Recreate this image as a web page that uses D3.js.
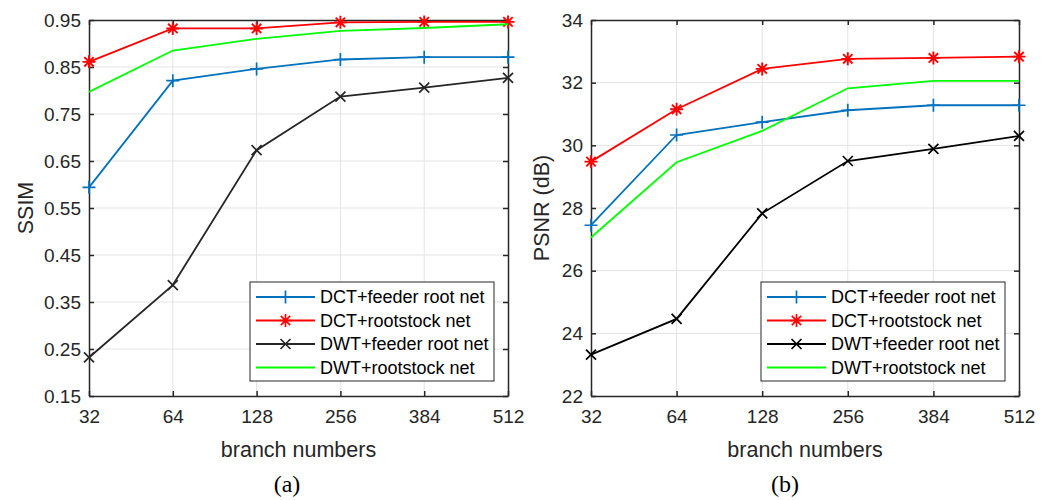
<!DOCTYPE html>
<html>
<head>
<meta charset="utf-8">
<script src="https://cdn.jsdelivr.net/npm/d3@7"></script>
<style>
  body { margin: 0; background: #fff; }
  svg { display: block; font-family: 'Liberation Sans', Arial, sans-serif; }
  .grid line { stroke: #e3e3e3; stroke-width: 1; }
</style>
</head>
<body>
<div id="chart"></div>
<script>
;(function() {
  'use strict';
  var branches = ['32', '64', '128', '256', '384', '512'];
  var seriesNames = ['DCT+feeder root net', 'DCT+rootstock net', 'DWT+feeder root net', 'DWT+rootstock net'];

  // SSIM values
  var ssimDctFeeder = [0.594, 0.821, 0.846, 0.866, 0.871, 0.871];
  var ssimDctRoot   = [0.861, 0.932, 0.932, 0.945, 0.946, 0.946];
  var ssimDwtFeeder = [0.232, 0.386, 0.673, 0.787, 0.806, 0.827];
  var ssimDwtRoot   = [0.797, 0.885, 0.910, 0.927, 0.933, 0.941];
  var ssimTicks = [0.15, 0.25, 0.35, 0.45, 0.55, 0.65, 0.75, 0.85, 0.95];

  // PSNR values
  var psnrDctFeeder = [27.45, 30.33, 30.74, 31.12, 31.28, 31.28];
  var psnrDctRoot   = [29.48, 31.15, 32.44, 32.76, 32.79, 32.83];
  var psnrDwtFeeder = [23.32, 24.46, 27.83, 29.50, 29.89, 30.30];
  var psnrDwtRoot   = [27.06, 29.46, 30.46, 31.82, 32.06, 32.06];
  var psnrTicks = [22, 24, 26, 28, 30, 32, 34];

  var svg = d3.select('#chart').append('svg')
    .attr('width', 1058)
    .attr('height', 500);

  function markerPath(type, s) {
    var p = d3.path();
    if (type === 'plus' || type === 'star') {
      p.moveTo(-s, 0); p.lineTo(s, 0);
      p.moveTo(0, -s); p.lineTo(0, s);
    }
    if (type === 'star' || type === 'cross') {
      var k = type === 'star' ? s * 0.72 : s;
      p.moveTo(-k, -k); p.lineTo(k, k);
      p.moveTo(-k, k); p.lineTo(k, -k);
    }
    return p.toString();
  }

  function Panel(opts) {
    var left = opts.left, right = opts.right, top = 20, bottom = 396,
        axisColor = '#262626';

    var x = d3.scalePoint().domain(branches).range([left, right]);
    var y = d3.scaleLinear().domain(opts.yDomain).range([bottom, top]);

    var g = svg.append('g');

    // grid
    var grid = g.append('g').classed('grid', true);
    grid.selectAll('line.gx').data(branches.slice(1, -1)).enter()
      .append('line').classed('gx', true)
      .attr('x1', function(d) { return x(d); }).attr('x2', function(d) { return x(d); })
      .attr('y1', top).attr('y2', bottom);
    grid.selectAll('line.gy').data(opts.ticks.slice(1, -1)).enter()
      .append('line').classed('gy', true)
      .attr('x1', left).attr('x2', right)
      .attr('y1', function(d) { return y(d); }).attr('y2', function(d) { return y(d); });

    // axes: inward ticks on all four sides, like a boxed MATLAB axes
    var axB = d3.axisBottom(x).tickSizeInner(-5).tickSizeOuter(0).tickPadding(14);
    var axT = d3.axisTop(x).tickSizeInner(-5).tickSizeOuter(0).tickFormat('');
    var axL = d3.axisLeft(y).tickValues(opts.ticks).tickSizeInner(-5).tickSizeOuter(0)
      .tickPadding(8).tickFormat(opts.fmt);
    var axR = d3.axisRight(y).tickValues(opts.ticks).tickSizeInner(-5).tickSizeOuter(0).tickFormat('');

    [[axB, 'translate(0,' + bottom + ')'], [axT, 'translate(0,' + top + ')'],
     [axL, 'translate(' + left + ',0)'], [axR, 'translate(' + right + ',0)']].forEach(function(a) {
      var ag = g.append('g').attr('transform', a[1]).call(a[0]);
      ag.select('.domain').attr('stroke', axisColor).attr('stroke-width', 1.5);
      ag.selectAll('.tick line').attr('stroke', axisColor).attr('stroke-width', 1.5);
      ag.selectAll('.tick text').attr('fill', '#262626')
        .style('font-size', '19px').style('font-family', "'Liberation Sans', Arial, sans-serif");
    });

    // lines and markers
    var line = d3.line()
      .x(function(d, i) { return x(branches[i]); })
      .y(function(d) { return y(d); });

    opts.series.forEach(function(s) {
      g.append('path')
        .attr('d', line(s.values))
        .attr('fill', 'none')
        .attr('stroke', s.color)
        .attr('stroke-width', 1.8);
      if (s.marker) {
        g.selectAll(null).data(s.values).enter()
          .append('path')
          .attr('transform', function(d, i) { return 'translate(' + x(branches[i]) + ',' + y(d) + ')'; })
          .attr('d', markerPath(s.marker, s.marker === 'cross' ? 5 : 6.5))
          .attr('fill', 'none')
          .attr('stroke', s.color)
          .attr('stroke-width', s.marker === 'star' ? 1.9 : 1.7);
      }
    });

    // axis titles
    g.append('text')
      .attr('x', (left + right) / 2).attr('y', 457)
      .attr('text-anchor', 'middle')
      .attr('fill', '#262626')
      .style('font-size', '21.5px')
      .text('branch numbers');
    g.append('text')
      .attr('transform', 'translate(' + opts.yLabelX + ',' + ((top + bottom) / 2) + ') rotate(-90)')
      .attr('text-anchor', 'middle')
      .attr('fill', '#262626')
      .style('font-size', '21.5px')
      .text(opts.yLabel);
    g.append('text')
      .attr('x', opts.captionX).attr('y', 492)
      .attr('text-anchor', 'middle')
      .attr('fill', '#000')
      .style('font-family', "'Liberation Serif', 'Times New Roman', serif")
      .style('font-size', '24px')
      .text(opts.caption);

    // legend
    var lx = right - 258, ly = 282, lw = 244, lh = 99;
    var lg = g.append('g').attr('transform', 'translate(' + lx + ',' + ly + ')');
    lg.append('rect')
      .attr('width', lw).attr('height', lh)
      .attr('fill', '#fff').attr('stroke', '#262626').attr('stroke-width', 1);
    var rows = lg.selectAll('g.row').data(opts.series).enter()
      .append('g').classed('row', true)
      .attr('transform', function(d, i) { return 'translate(0,' + (15 + i * 23.5) + ')'; });
    rows.append('line')
      .attr('x1', 6).attr('x2', 65)
      .attr('stroke', function(d) { return d.color; })
      .attr('stroke-width', 1.8);
    rows.filter(function(d) { return d.marker; }).append('path')
      .attr('transform', 'translate(35.5,0)')
      .attr('d', function(d) { return markerPath(d.marker, d.marker === 'cross' ? 5 : 6.5); })
      .attr('fill', 'none')
      .attr('stroke', function(d) { return d.color; })
      .attr('stroke-width', 1.7);
    rows.append('text')
      .attr('x', 70).attr('dy', '0.35em')
      .attr('fill', '#000')
      .style('font-size', '18px')
      .text(function(d) { return d.name; });
  }

  Panel({
    left: 89, right: 508,
    yDomain: [0.15, 0.95], ticks: ssimTicks, fmt: d3.format('.2f'),
    yLabel: 'SSIM', yLabelX: 33, caption: '(a)', captionX: 287,
    series: [
      {name: seriesNames[0], values: ssimDctFeeder, color: '#0072BD', marker: 'plus'},
      {name: seriesNames[1], values: ssimDctRoot, color: '#FF0000', marker: 'star'},
      {name: seriesNames[2], values: ssimDwtFeeder, color: '#262626', marker: 'cross'},
      {name: seriesNames[3], values: ssimDwtRoot, color: '#00FF00', marker: null}
    ]
  });

  Panel({
    left: 591, right: 1019,
    yDomain: [22, 34], ticks: psnrTicks, fmt: d3.format('d'),
    yLabel: 'PSNR (dB)', yLabelX: 549, caption: '(b)', captionX: 785,
    series: [
      {name: seriesNames[0], values: psnrDctFeeder, color: '#0072BD', marker: 'plus'},
      {name: seriesNames[1], values: psnrDctRoot, color: '#FF0000', marker: 'star'},
      {name: seriesNames[2], values: psnrDwtFeeder, color: '#000000', marker: 'cross'},
      {name: seriesNames[3], values: psnrDwtRoot, color: '#00FF00', marker: null}
    ]
  });
})();
</script>
</body>
</html>
